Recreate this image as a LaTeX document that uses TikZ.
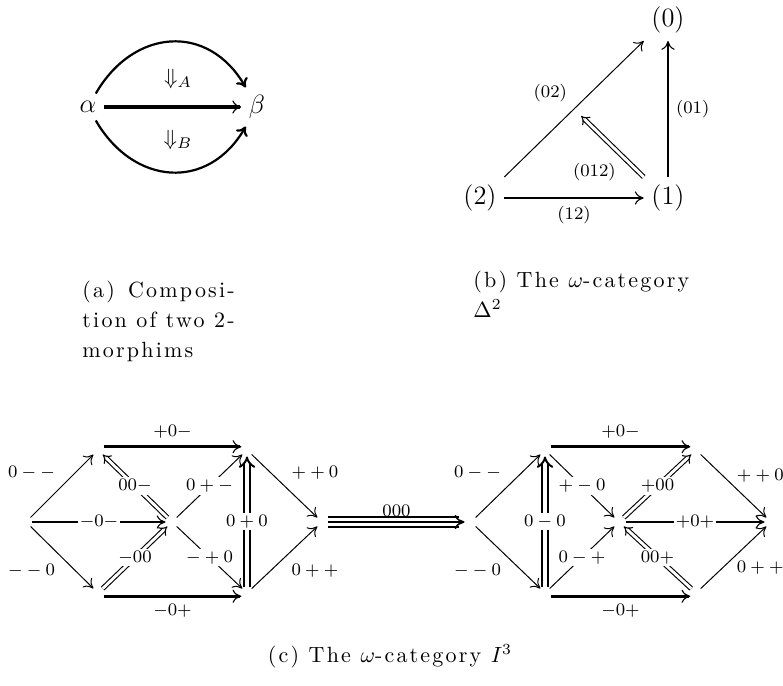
\documentclass[tikz,border=0pt]{standalone}
\usepackage{amsmath,amssymb}
\usepackage{fontspec}
\usepackage{tikz}
\usetikzlibrary{arrows.meta,positioning,calc}
\newfontfamily\capfont{lmroman10-regular.otf}[LetterSpace=10]
\tikzset{
  vtx/.style={circle,inner sep=0pt,minimum size=5.5pt},
  obj/.style={font=\large},
  arr/.style={-{Computer Modern Rightarrow[length=4pt,width=6pt]},line width=0.45pt},
  harr/.style={-{Computer Modern Rightarrow[length=4pt,width=6pt,line width=0.5pt 0]},line width=1.3pt},
  darr/.style={-{Implies},double,double distance=1.3pt,line width=0.5pt},
  hdarr/.style={-{Implies},double,double distance=1.6pt,line width=0.9pt},
  tri/.style={double,double distance=3.9pt,line width=0.7pt,shorten >=2.5pt},
  lbl/.style={font=\footnotesize,inner sep=3pt},
  onl/.style={font=\footnotesize,inner sep=1pt,fill=white},
  capt/.style={font=\capfont\fontsize{10}{13.6}\selectfont,align=left,inner sep=0pt},
}
\begin{document}
\begin{tikzpicture}[x=0.4545pt,y=0.4545pt]
  \useasboundingbox (0,0) rectangle (783,685);
  % (a) two 2-morphisms
  \node[obj] (al) at (88,578) {$\alpha$};
  \node[obj] (be) at (257,578) {$\beta$};
  \draw[harr,line width=1.5pt] (al) -- (be);
  \draw[arr,line width=1pt] (al.60) to[out=60,in=120,looseness=1.28] (be.120);
  \draw[arr,line width=1pt] (al.-60) to[out=-60,in=-120,looseness=1.28] (be.-120);
  \node (dA) at (178,606) {$\Downarrow_A$};
  \node (dB) at (178,545) {$\Downarrow_B$};
  \node[capt,anchor=north west] (capa) at (82,404) {(a)\hspace{6pt}Composi-\\tion of two 2-\\morphims};
  % (b) the simplex
  \node[obj] (d0) at (668,665) {(0)};
  \node[obj] (d1) at (668,487) {(1)};
  \node[obj] (d2) at (480,487) {(2)};
  \draw[harr] (d2) -- (d1) node[lbl,midway,below] (l12) {(12)};
  \draw[harr] (d1) -- (d0) node[lbl,midway,right] (l01) {(01)};
  \draw[arr] (d2.north east) -- (d0.south west) node[lbl,midway,above left] (l02) {(02)};
  \coordinate (m02) at ($(d2.north east)!0.5!(d0.south west)$);
  \draw[darr,shorten >=4.5pt] (d1.north west) -- (m02) node[lbl,pos=0.3,below left] (l012) {(012)};
  \node[capt,anchor=north west] (capb) at (473,414) {(b) The $\omega$-category\\$\Delta^2$};
  % (c) left cube
  \node[vtx] (u0) at (26,163) {};
  \node[vtx] (ut1) at (98,235) {};
  \node[vtx] (ub1) at (98,92) {};
  \node[vtx] (uc) at (172,163) {};
  \node[vtx] (ut2) at (247,235) {};
  \node[vtx] (ub2) at (247,92) {};
  \node[vtx] (ur) at (322,163) {};
  \draw[arr] (u0) -- (ut1) node[lbl,midway,above left] (la1) {$0--$};
  \draw[arr] (u0) -- (ub1) node[lbl,midway,below left] (la2) {$--0$};
  \draw[harr] (u0) -- (uc) node[onl,midway] (la3) {$-0-$};
  \draw[harr] (ut1.30) -- (ut2.150) node[lbl,midway,above] (la4) {$+0-$};
  \draw[harr] (ub1.-30) -- (ub2.-150) node[lbl,midway,below] (la5) {$-0+$};
  \draw[darr] (uc) -- (ut1) node[onl,midway] (la6) {$00-$};
  \draw[darr] (ub1) -- (uc) node[onl,midway] (la7) {$-00$};
  \draw[arr] (uc) -- (ut2) node[onl,midway] (la8) {$0+-$};
  \draw[arr] (uc) -- (ub2) node[onl,midway] (la9) {$-+0$};
  \draw[hdarr] (ub2) -- (ut2) node[onl,midway] (la10) {$0+0$};
  \draw[arr] (ut2) -- (ur) node[lbl,midway,above right] (la11) {$++0$};
  \draw[arr] (ub2) -- (ur) node[lbl,midway,below right] (la12) {$0++$};
  % right cube
  \node[vtx] (v0) at (471,163) {};
  \node[vtx] (vt1) at (545,235) {};
  \node[vtx] (vb1) at (545,92) {};
  \node[vtx] (vc) at (619,163) {};
  \node[vtx] (vt2) at (696,235) {};
  \node[vtx] (vb2) at (696,92) {};
  \node[vtx] (vr) at (771,163) {};
  \draw[arr] (v0) -- (vt1) node[lbl,midway,above left] (lb1) {$0--$};
  \draw[arr] (v0) -- (vb1) node[lbl,midway,below left] (lb2) {$--0$};
  \draw[hdarr] (vb1) -- (vt1) node[onl,midway] (lb3) {$0-0$};
  \draw[harr] (vt1.30) -- (vt2.150) node[lbl,midway,above] (lb4) {$+0-$};
  \draw[harr] (vb1.-30) -- (vb2.-150) node[lbl,midway,below] (lb5) {$-0+$};
  \draw[arr] (vt1) -- (vc) node[onl,midway] (lb6) {$+-0$};
  \draw[arr] (vb1) -- (vc) node[onl,midway] (lb7) {$0-+$};
  \draw[darr] (vc) -- (vt2) node[onl,midway] (lb8) {$+00$};
  \draw[darr] (vb2) -- (vc) node[onl,midway] (lb9) {$00+$};
  \draw[harr] (vc) -- (vr) node[onl,midway] (lb10) {$+0+$};
  \draw[arr] (vt2) -- (vr) node[lbl,inner sep=1.3pt,midway,above right] (lb11) {$++0$};
  \draw[arr] (vb2) -- (vr) node[lbl,inner sep=1.3pt,midway,below right] (lb12) {$0++$};
  % the 3-cell between them
  \draw[tri] (ur) -- (v0);
  \draw[line width=0.7pt,-{Computer Modern Rightarrow[length=4.5pt,width=6.5pt,line width=0.7pt 0]}] (ur) -- (v0)
    node[midway,above=2.3pt,inner sep=0pt,font=\footnotesize] (l000) {$000$};
  \node[capt,anchor=base] (capc) at (390,23) {(c) The $\omega$-category $I^3$};
\end{tikzpicture}
\end{document}
